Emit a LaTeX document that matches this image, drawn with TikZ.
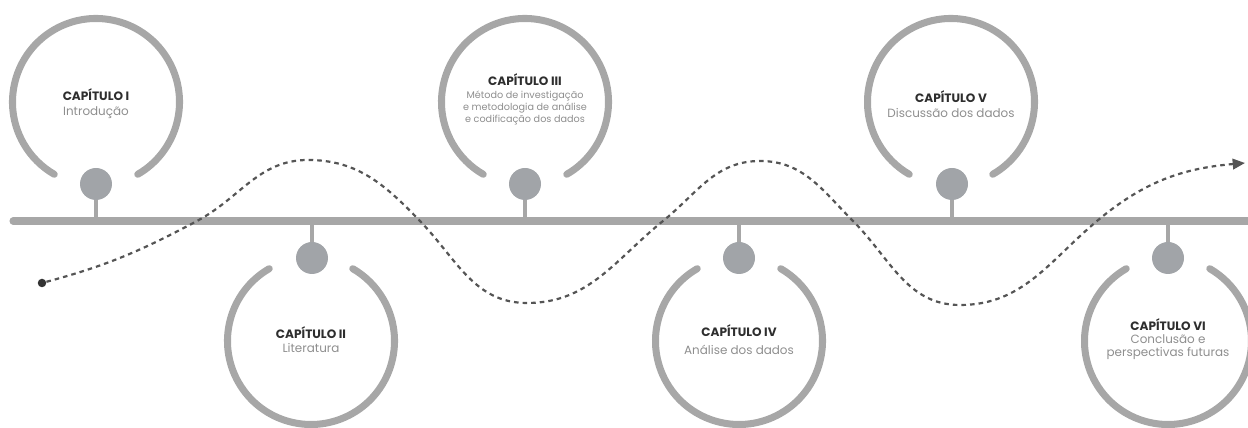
\documentclass[tikz,border=0pt]{standalone}
\usepackage{fontspec}
\setmainfont{Poppins}
\usetikzlibrary{arrows.meta}
\definecolor{ringc}{HTML}{A7A7A7}
\definecolor{dotc}{HTML}{A1A4A8}
\definecolor{dashc}{HTML}{555555}
\definecolor{startc}{HTML}{333333}
\definecolor{headc}{HTML}{2E2E2E}
\definecolor{bodyc}{HTML}{8E8E8E}
\begin{document}
\begin{tikzpicture}[x=0.02cm,y=0.02cm,
  ringarc/.style={draw=ringc, line width=4pt, line cap=round},
  mainline/.style={draw=ringc, line width=4pt, line cap=round},
  stem/.style={draw=ringc, line width=2.6pt},
  pin/.style={circle, fill=dotc, minimum size=0.64cm, inner sep=0pt},
  startdot/.style={circle, fill=startc, minimum size=0.17cm, inner sep=0pt},
  heading/.style={font=\fontsize{6.9}{7.4}\selectfont\bfseries, text=headc, inner sep=0pt},
  bodytext/.style={font=\fontsize{6.8}{7.4}\selectfont, text=bodyc, inner sep=0pt, align=center},
  smalltext/.style={font=\fontsize{5.5}{6.7}\selectfont, text=bodyc, inner sep=0pt, align=center},
  trail/.style={draw=dashc, line width=1.25pt, dash pattern=on 2.6pt off 2.3pt, -{Triangle[length=7pt,width=6pt]}}
]
\useasboundingbox (0,0) rectangle (1248,428);

% main timeline
\coordinate (L) at (13,207);
\coordinate (R) at (1252,207);
\draw[mainline] (L) -- (R);

% circle centres
\coordinate (c1) at (96,326);
\coordinate (c2) at (311,87);
\coordinate (c3) at (525,326);
\coordinate (c4) at (739,87);
\coordinate (c5) at (951,326);
\coordinate (c6) at (1168,87);

% rings (top: gap at bottom, bottom: gap at top)
\draw[ringarc] (c1) ++(-60:83.5) arc[start angle=-60, end angle=240, radius=83.5];
\draw[ringarc] (c3) ++(-60:83.5) arc[start angle=-60, end angle=240, radius=83.5];
\draw[ringarc] (c5) ++(-60:83.5) arc[start angle=-60, end angle=240, radius=83.5];
\draw[ringarc] (c2) ++(120:83.5) arc[start angle=120, end angle=420, radius=83.5];
\draw[ringarc] (c4) ++(120:83.5) arc[start angle=120, end angle=420, radius=83.5];
\draw[ringarc] (c6) ++(120:83.5) arc[start angle=120, end angle=420, radius=83.5];

% pins
\node[pin] (d1) at (96,244) {};
\node[pin] (d3) at (525,244) {};
\node[pin] (d5) at (952,244) {};
\node[pin] (d2) at (312,170) {};
\node[pin] (d4) at (739,170) {};
\node[pin] (d6) at (1168,170) {};
\foreach \d in {d1,d2,d3,d4,d5,d6} \draw[stem] (\d) -- (\d |- L);

% texts
\node[heading] (h1) at (96,333) {CAPÍTULO I};
\node[bodytext] (b1) at (96,315) {Introdução};
\node[heading] (h2) at (311,95) {CAPÍTULO II};
\node[bodytext] (b2) at (311,80) {Literatura};
\node[heading] (h3) at (525,348) {CAPÍTULO III};
\node[smalltext, anchor=north] (b3) at (525,337) {Método de investigação\\e metodologia de análise\\e codificação dos dados};
\node[heading] (h4) at (739,97) {CAPÍTULO IV};
\node[bodytext] (b4) at (739,78) {Análise dos dados};
\node[heading] (h5) at (951,331) {CAPÍTULO V};
\node[bodytext] (b5) at (951,315) {Discussão dos dados};
\node[heading] (h6) at (1168,103) {CAPÍTULO VI};
\node[bodytext, anchor=north] (b6) at (1168,94) {Conclusão e\\perspectivas futuras};

% dashed trail
\node[startdot] (s) at (42,145) {};
\coordinate (w1) at (197,207);
\coordinate (w2) at (308,268);
\coordinate (w3) at (420,207);
\coordinate (w4) at (527,125);
\coordinate (w5) at (663,207);
\coordinate (w6) at (760,267);
\coordinate (w7) at (853,207);
\coordinate (w8) at (960,123);
\coordinate (w9) at (1097,207);
\coordinate (e) at (1245,265);
\draw[trail] (s) to[out=15,in=208] (w1) to[out=28,in=180] (w2)
  to[out=0,in=134] (w3) to[out=-46,in=180] (w4)
  to[out=0,in=219] (w5) to[out=39,in=180] (w6)
  to[out=0,in=135] (w7) to[out=-45,in=180] (w8)
  to[out=0,in=220] (w9) to[out=40,in=185] (e);
\end{tikzpicture}
\end{document}
